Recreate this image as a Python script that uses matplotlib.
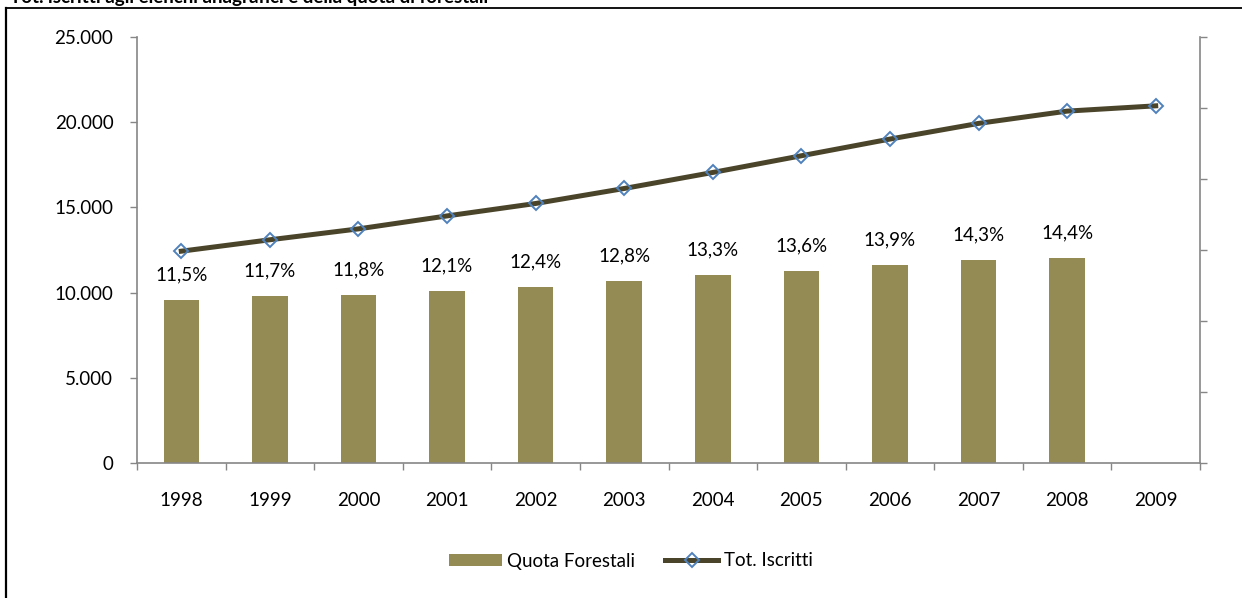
import numpy as np
import matplotlib
matplotlib.use("Agg")
import matplotlib.pyplot as plt
from matplotlib.lines import Line2D
from matplotlib.ticker import FuncFormatter, FixedLocator

plt.rcParams['font.family'] = ['Lato', 'DejaVu Sans']

# dati
anni = ['1998', '1999', '2000', '2001', '2002', '2003',
        '2004', '2005', '2006', '2007', '2008', '2009']
quota_forestali = [9550, 9790, 9850, 10120, 10320, 10670,
                   11020, 11280, 11630, 11900, 12020]
etichette_pct = ['11,5%', '11,7%', '11,8%', '12,1%', '12,4%', '12,8%',
                 '13,3%', '13,6%', '13,9%', '14,3%', '14,4%']
tot_iscritti = [12430, 13100, 13740, 14500, 15230, 16110,
                17050, 18030, 19010, 19930, 20650, 20960]

bar_col = '#948A54'
line_col = '#4A452A'
mark_col = '#4F81BD'
axis_col = '#868686'
fs = 13.5

fig = plt.figure(figsize=(12.42, 5.98), dpi=100)
ax = fig.add_axes([137 / 1242, 1 - 463 / 598, (1200 - 137) / 1242, (463 - 37) / 598])

x = np.arange(len(anni))
ax.bar(x[:len(quota_forestali)], quota_forestali, width=0.40, color=bar_col,
       label='Quota Forestali', zorder=2)
for xi, v, lab in zip(x, quota_forestali, etichette_pct):
    ax.annotate(lab, (xi, v), xytext=(0, 18), textcoords='offset points',
                ha='center', va='center', fontsize=fs, color='black')

ax.set_xlim(-0.5, len(anni) - 0.5)
ax.set_ylim(0, 25000)
ax.set_yticks(np.arange(0, 25001, 5000))
ax.yaxis.set_major_formatter(FuncFormatter(lambda v, p: f'{int(v):,}'.replace(',', '.')))
ax.set_xticks(x)
ax.set_xticklabels(anni)
ax.xaxis.set_minor_locator(FixedLocator(np.arange(-0.5, len(anni), 1.0)))
ax.tick_params(axis='x', which='major', length=0, pad=21, labelsize=fs)
ax.tick_params(axis='x', which='minor', length=5, width=1, color=axis_col)
ax.tick_params(axis='y', length=5, width=1, color=axis_col, pad=12, labelsize=fs)
for s in ['top', 'right']:
    ax.spines[s].set_visible(False)
for s in ['left', 'bottom']:
    ax.spines[s].set_color(axis_col)
    ax.spines[s].set_linewidth(1.2)

# asse secondario (senza etichette)
ax2 = ax.twinx()
ax2.plot(x, tot_iscritti, color=line_col, lw=3.6, marker='D', ms=7,
         mfc='none', mec=mark_col, mew=1.4, label='Tot. Iscritti', zorder=3)
ax2.set_ylim(0, 25000)
ax2.set_yticks(np.linspace(0, 25000, 7))
ax2.set_yticklabels([])
ax2.tick_params(axis='y', length=5, width=1, color=axis_col)
for s in ['top', 'left', 'bottom']:
    ax2.spines[s].set_visible(False)
ax2.spines['right'].set_color(axis_col)
ax2.spines['right'].set_linewidth(1.2)

h1, l1 = ax.get_legend_handles_labels()
h2, l2 = ax2.get_legend_handles_labels()
fig.legend(h1 + h2, l1 + l2, loc='center', bbox_to_anchor=(0.508, 1 - 561 / 598),
           ncol=2, frameon=False, fontsize=fs, handlelength=2.8, handleheight=0.65,
           handletextpad=0.3, columnspacing=1.6)

# titolo (tagliato in alto come nell'originale)
fig.text(10 / 1242, 1 - 3 / 598, "Tot. iscritti agli elenchi anagrafici e della quota di forestali",
         fontsize=fs, fontweight='bold', ha='left', va='baseline')

# cornice
fig.add_artist(Line2D([6 / 1242, 6 / 1242], [0, 1 - 8 / 598], color='black', lw=1.6,
                      transform=fig.transFigure))
fig.add_artist(Line2D([6 / 1242, 1], [1 - 8 / 598, 1 - 8 / 598], color='black', lw=1.3,
                      transform=fig.transFigure))

fig.savefig('out.png', dpi=100)
